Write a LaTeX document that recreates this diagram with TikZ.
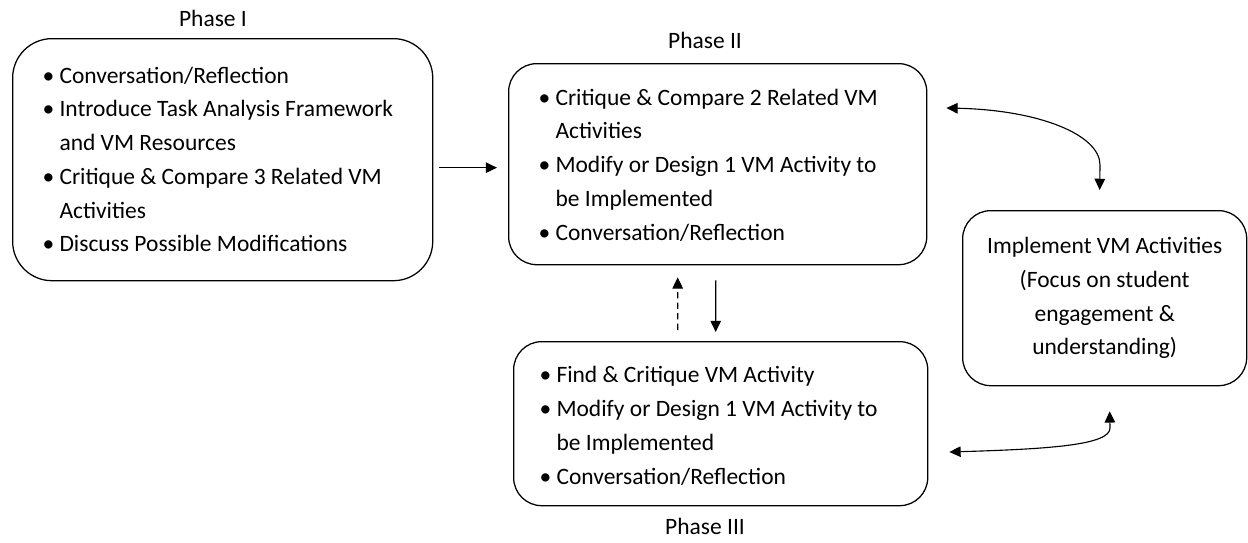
\documentclass[tikz,border=0pt]{standalone}
\usepackage{fontspec}
\setmainfont{Carlito}
\usetikzlibrary{arrows.meta}

\tikzset{
    phasebox/.style={draw, line width=0.9pt, rounded corners=20pt, anchor=north west, inner ysep=0pt,
        align=flush left},
    conn/.style={line width=0.8pt, -{Triangle[length=8pt, width=7.5pt]}},
    twoway/.style={line width=0.8pt, {Triangle[length=8pt, width=7.5pt]}-{Triangle[length=8pt, width=7.5pt]}}
}

% one bullet line, the lines after the first hang under the text
\newcommand{\bitem}[1]{\par\hangindent=12pt\hangafter=1\noindent\makebox[12pt][l]{\textbullet}#1}

\begin{document}
\begin{tikzpicture}[x=0.025cm, y=-0.025cm, every node/.style={font=\fontsize{16.7}{24}\selectfont}]
    \useasboundingbox (0,0) rectangle (1248,542);

    % the phase boxes
    \node[phasebox, rounded corners=28pt, inner xsep=0.75cm, text width=9cm, minimum height=6.05cm] (p1) at (12,38) {%
        \bitem{Conversation/Reflection}
        \bitem{Introduce Task Analysis Framework\newline and VM Resources}
        \bitem{Critique \& Compare 3 Related VM\newline Activities}
        \bitem{Discuss Possible Modifications}\par\kern12.8pt\relax};
    \node[phasebox, inner xsep=0.75cm, text width=8.95cm, minimum height=5.025cm] (p2) at (508,63) {%
        \bitem{Critique \& Compare 2 Related VM\newline Activities}
        \bitem{Modify or Design 1 VM Activity to\newline be Implemented}
        \bitem{Conversation/Reflection}\par\kern11.4pt\relax};
    \node[phasebox, inner xsep=0.65cm, text width=9.05cm, minimum height=4.1cm] (p3) at (513,341) {%
        \bitem{Find \& Critique VM Activity}
        \bitem{Modify or Design 1 VM Activity to\newline be Implemented}
        \bitem{Conversation/Reflection}\par\kern9.2pt\relax};
    \node[phasebox, align=flush center, inner xsep=0pt,
        minimum width=7.1cm, minimum height=4.375cm] (impl) at (962,210)
        {Implement VM Activities\\(Focus on student\\engagement \&\\understanding)};

    % labels of the phases
    \node (l1) at (213,18) {Phase I};
    \node (l2) at (705,40) {Phase II};
    \node (l3) at (705,526) {Phase III};

    % arrows between the phases
    \draw[conn] ([shift={(6,8)}]p1.east) -- ([shift={(-11,8)}]p2.west |- p1.east);
    \draw[conn, dash pattern=on 4.5pt off 3pt] ([shift={(-43,-11)}]p3.north) -- ([shift={(-40,12)}]p2.south);
    \draw[conn] ([shift={(-2,15)}]p2.south) -- ([shift={(-5,-9)}]p3.north);

    % arrows to and from the classroom
    \coordinate (c2) at ([shift={(19,45)}]p2.north east);
    \coordinate (c3) at ([shift={(21,111)}]p3.north east);
    \coordinate (ci) at ([shift={(-5,-20)}]impl.north);
    \coordinate (cj) at ([shift={(5,25)}]impl.south);
    \draw[twoway] (c2) .. controls (1040,110) and (1100,135) .. (1100,165) -- (ci);
    \draw[twoway] (c3) .. controls (1050,449) and (1110,445) .. (1110,428) -- (cj);
\end{tikzpicture}
\end{document}
